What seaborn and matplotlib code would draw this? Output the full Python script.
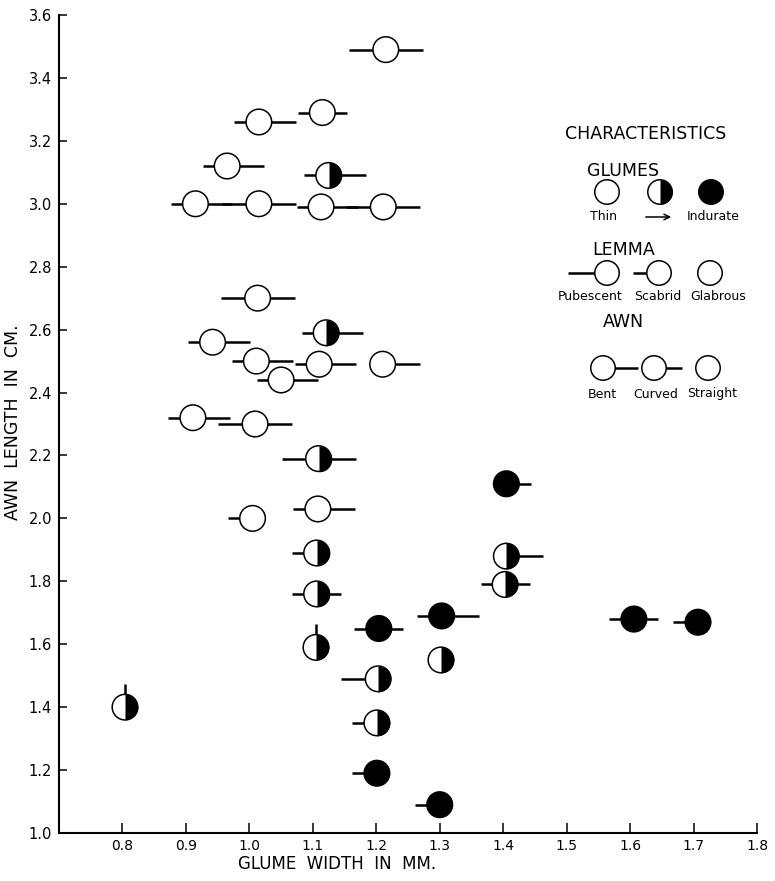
import numpy as np
import pandas as pd
import matplotlib
matplotlib.use('Agg')
import matplotlib.pyplot as plt
from matplotlib.markers import MarkerStyle
import seaborn as sns

sns.set_style('ticks')
plt.rcParams['font.family'] = ['DejaVu Sans']
plt.rcParams['text.color'] = 'black'
plt.rcParams['axes.labelcolor'] = 'black'
plt.rcParams['xtick.color'] = 'black'
plt.rcParams['ytick.color'] = 'black'
plt.rcParams['axes.edgecolor'] = 'black'

# one row per specimen
glume_width = [1.215, 1.115, 1.015, 0.965, 1.125, 0.915, 1.015, 1.113, 1.211,
               1.013, 1.121, 0.942, 1.011, 1.110, 1.210, 1.050, 0.911, 1.009,
               1.109, 1.005, 1.108, 1.106, 1.106, 1.204, 1.303, 1.105, 0.804,
               1.203, 1.302, 1.201, 1.201, 1.300, 1.405, 1.405, 1.403, 1.606,
               1.707]
awn_length = [3.49, 3.29, 3.26, 3.12, 3.09, 3.00, 3.00, 2.99, 2.99,
              2.70, 2.59, 2.56, 2.50, 2.49, 2.49, 2.44, 2.32, 2.30,
              2.19, 2.00, 2.03, 1.89, 1.76, 1.65, 1.69, 1.59, 1.40,
              1.49, 1.55, 1.35, 1.19, 1.09, 2.11, 1.88, 1.79, 1.68,
              1.67]
glumes = ['thin', 'thin', 'thin', 'thin', 'mid', 'thin', 'thin', 'thin', 'thin',
          'thin', 'mid', 'thin', 'thin', 'thin', 'thin', 'thin', 'thin', 'thin',
          'mid', 'thin', 'thin', 'mid', 'mid', 'indurate', 'indurate', 'mid', 'mid',
          'mid', 'mid', 'mid', 'indurate', 'indurate', 'indurate', 'mid', 'mid', 'indurate',
          'indurate']
lemma = ['pubescent', 'scabrid', 'scabrid', 'scabrid', 'scabrid', 'scabrid', 'pubescent', 'scabrid', 'pubescent',
         'pubescent', 'scabrid', 'scabrid', 'scabrid', 'scabrid', 'glabrous', 'scabrid', 'scabrid', 'pubescent',
         'pubescent', 'scabrid', 'scabrid', 'scabrid', 'scabrid', 'scabrid', 'scabrid', 'glabrous', 'glabrous',
         'pubescent', 'glabrous', 'scabrid', 'scabrid', 'scabrid', 'glabrous', 'glabrous', 'scabrid', 'scabrid',
         'scabrid']
awn = ['bent', 'curved', 'bent', 'bent', 'bent', 'bent', 'bent', 'bent', 'bent',
       'bent', 'bent', 'bent', 'bent', 'bent', 'bent', 'bent', 'bent', 'bent',
       'bent', 'straight', 'bent', 'straight', 'curved', 'curved', 'bent', 'straight', 'straight',
       'straight', 'straight', 'straight', 'straight', 'straight', 'curved', 'bent', 'curved', 'curved',
       'straight']
bristle = [0, 0, 0, 0, 0, 0, 0, 0, 0,
           0, 0, 0, 0, 0, 0, 0, 0, 0,
           0, 0, 0, 0, 0, 0, 0, 1, 1,
           0, 0, 0, 0, 0, 0, 0, 0, 0,
           0]

x_ticks = [0.8, 0.9, 1.0, 1.1, 1.2, 1.3, 1.4, 1.5, 1.6, 1.7, 1.8]
y_ticks = [1.0, 1.2, 1.4, 1.6, 1.8, 2.0, 2.2, 2.4, 2.6, 2.8, 3.0, 3.2, 3.4, 3.6]

df = pd.DataFrame({'width': glume_width, 'length': awn_length, 'glumes': glumes,
                   'lemma': lemma, 'awn': awn, 'bristle': bristle})

# ray lengths in pixels, measured from the centre of the circle
left_ray = {'pubescent': 37, 'scabrid': 24.5, 'glabrous': 0}
right_ray = {'bent': 37, 'curved': 24.5, 'straight': 0}
up_ray = 23.5

fig = plt.figure(figsize=(7.75, 8.81), dpi=100)
ax = fig.add_axes([59 / 775, 1 - 833 / 881, 698 / 775, 818 / 881])
ax.set_xlim(0.7, 1.8)
ax.set_ylim(1.0, 3.6)
px_x = 1.1 / 698
px_y = 2.6 / 818

ray_kw = dict(color='black', lw=1.8, solid_capstyle='butt', zorder=2)
for r in df.itertuples():
    if left_ray[r.lemma]:
        ax.plot([r.width - left_ray[r.lemma] * px_x, r.width], [r.length, r.length], **ray_kw)
    if right_ray[r.awn]:
        ax.plot([r.width, r.width + right_ray[r.awn] * px_x], [r.length, r.length], **ray_kw)
    if r.bristle:
        ax.plot([r.width, r.width], [r.length, r.length + up_ray * px_y], **ray_kw)

pal = {'thin': 'white', 'mid': 'white', 'indurate': 'black'}
sns.scatterplot(data=df, x='width', y='length', hue='glumes', palette=pal, s=340,
                edgecolor='black', linewidth=1.1, legend=False, ax=ax, zorder=3)
sns.scatterplot(data=df[df.glumes == 'mid'], x='width', y='length',
                marker=MarkerStyle('o', fillstyle='right'), color='black', s=340,
                linewidth=0, legend=False, ax=ax, zorder=4)

sns.despine(ax=ax)
for s in ['left', 'bottom']:
    ax.spines[s].set_linewidth(1.5)
ax.set_xticks(x_ticks)
ax.set_xticklabels([f'{v:.1f}' for v in x_ticks])
ax.set_yticks(y_ticks)
ax.set_yticklabels([f'{v:.1f}' for v in y_ticks])
ax.tick_params(axis='x', direction='in', length=7, width=1.1, pad=4, labelsize=10)
ax.tick_params(axis='y', direction='in', length=6, width=1.1, pad=5, labelsize=10.5)
ax.set_xlabel('GLUME  WIDTH  IN  MM.', fontsize=12, va='center')
ax.xaxis.set_label_coords((337 - 59) / 698, -(864 - 833) / 818)
ax.set_ylabel('AWN  LENGTH  IN  CM.', fontsize=12.5, va='center')
ax.yaxis.set_label_coords((13.5 - 59) / 698, (833 - 422) / 818)

# key, drawn in pixel coordinates on an overlay
lg = fig.add_axes([0, 0, 1, 1])
lg.set_xlim(0, 775)
lg.set_ylim(881, 0)
lg.axis('off')

lg.text(646, 134, 'CHARACTERISTICS', ha='center', va='center', fontsize=12.5)
lg.text(623, 171, 'GLUMES', ha='center', va='center', fontsize=12.5)
lg.text(624, 250, 'LEMMA', ha='center', va='center', fontsize=12.5)
lg.text(623, 322, 'AWN', ha='center', va='center', fontsize=12.5)

key_x = [607, 660, 711, 607, 659, 710, 603, 654, 708]
key_y = [192, 192, 192, 273, 273, 273, 368, 368, 368]
key_fill = ['white', 'white', 'black'] + ['white'] * 6
key_left = [0, 0, 0, 39, 26, 0, 0, 0, 0]
key_right = [0, 0, 0, 0, 0, 0, 35, 28, 0]
key_names = ['Thin', '', 'Indurate', 'Pubescent', 'Scabrid', 'Glabrous', 'Bent', 'Curved', 'Straight']
name_x = [603, 0, 713, 590, 658, 718, 602, 656, 712]
name_y = [217, 0, 217, 297, 297, 297, 394, 394, 394]

key = pd.DataFrame({'x': key_x, 'y': key_y, 'fill': key_fill})
for i in range(len(key_x)):
    if key_left[i]:
        lg.plot([key_x[i] - key_left[i], key_x[i]], [key_y[i]] * 2, **ray_kw)
    if key_right[i]:
        lg.plot([key_x[i], key_x[i] + key_right[i]], [key_y[i]] * 2, **ray_kw)
    if key_names[i]:
        lg.text(name_x[i], name_y[i], key_names[i], ha='center', va='center', fontsize=9)
sns.scatterplot(data=key, x='x', y='y', hue='fill', palette={'white': 'white', 'black': 'black'},
                s=310, edgecolor='black', linewidth=1.1, legend=False, ax=lg, zorder=3)
sns.scatterplot(x=[key_x[1]], y=[key_y[1]], marker=MarkerStyle('o', fillstyle='right'),
                color='black', s=310, linewidth=0, legend=False, ax=lg, zorder=4)
lg.annotate('', xy=(674, 217), xytext=(643, 217),
            arrowprops=dict(arrowstyle='->', color='black', lw=1.1))
lg.set_xlim(0, 775)
lg.set_ylim(881, 0)

fig.savefig('out.png', dpi=100)
